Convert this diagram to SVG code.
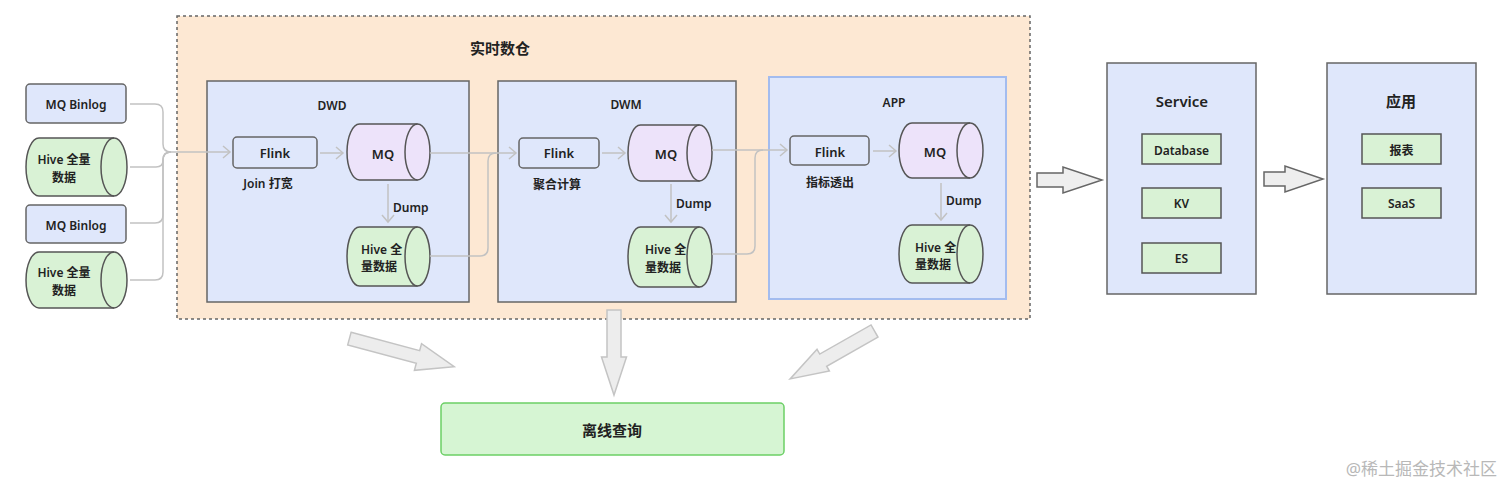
<svg xmlns="http://www.w3.org/2000/svg" width="1504" height="486" viewBox="0 0 1504 486">
<style>
text{font-family:"Noto Sans","Noto Sans CJK SC",sans-serif;font-weight:600;fill:#222;text-anchor:middle;dominant-baseline:central}
.s12{font-size:12px}.s13{font-size:13px}.s15{font-size:15px}
.blue{fill:#dfe7fb;stroke:#666;stroke-width:1.5}
.green{fill:#d9f2d5;stroke:#555;stroke-width:1.5}
.pink{fill:#ede3fa;stroke:#555;stroke-width:1.5}
.inner{fill:none;stroke:#555;stroke-width:1.5}
.con{fill:none;stroke:#c2c2c2;stroke-width:1.5}
.blk{fill:#eeeeee;stroke:#666;stroke-width:1.5}
.blk2{fill:#ededed;stroke:#c4c4c4;stroke-width:1.5}
.st{text-anchor:start}
</style>
<defs>
<marker id="ah" markerUnits="userSpaceOnUse" markerWidth="12" markerHeight="14" refX="9" refY="7" orient="auto">
<path d="M2,1 L9,7 L2,13" fill="none" stroke="#c2c2c2" stroke-width="1.5"/>
</marker>
</defs>
<rect width="1504" height="486" fill="#ffffff"/>

<g id="realtime">
<rect x="177" y="16" width="853" height="303" fill="#fde8d3" stroke="#666" stroke-width="1.5" stroke-dasharray="3,3"/>
<text x="500" y="48" class="s15">实时数仓</text>
</g>

<g id="dwd">
<rect x="207" y="81" width="262" height="221" class="blue"/>
<text x="332" y="105" class="s12">DWD</text>
</g>
<g id="dwm">
<rect x="498" y="81" width="238" height="221" class="blue"/>
<text x="626" y="104" class="s12">DWM</text>
</g>
<g id="app">
<rect x="769" y="77" width="237" height="222" fill="#dfe7fb" stroke="#a3bcef" stroke-width="2"/>
<text x="894" y="102" class="s12">APP</text>
</g>

<g id="src-mq1">
<rect x="26" y="84" width="100" height="39" rx="4" class="blue"/>
<text x="76" y="104" class="s12">MQ Binlog</text>
</g>
<g id="src-hive1">
<path d="M39,138 H114 A13,29 0 0 1 114,196 H39 A13,29 0 0 1 39,138 Z" class="green"/>
<path d="M114,138 A13,29 0 0 0 114,196" class="inner"/>
<text x="64" y="159" class="s12">Hive 全量</text>
<text x="64" y="177" class="s12">数据</text>
</g>
<g id="src-mq2">
<rect x="26" y="205" width="100" height="38" rx="4" class="blue"/>
<text x="76" y="225" class="s12">MQ Binlog</text>
</g>
<g id="src-hive2">
<path d="M39,252 H114 A13,28 0 0 1 114,308 H39 A13,28 0 0 1 39,252 Z" class="green"/>
<path d="M114,252 A13,28 0 0 0 114,308" class="inner"/>
<text x="64" y="272" class="s12">Hive 全量</text>
<text x="64" y="290" class="s12">数据</text>
</g>

<g id="dwd-flink">
<rect x="233" y="137" width="84" height="31" rx="4" class="blue"/>
<text x="275" y="153" class="s13">Flink</text>
<text x="268" y="183" class="s12">Join 打宽</text>
</g>
<g id="dwd-mq">
<path d="M359.5,124 H417.5 A12.5,28 0 0 1 417.5,180 H359.5 A12.5,28 0 0 1 359.5,124 Z" class="pink"/>
<path d="M417.5,124 A12.5,28 0 0 0 417.5,180" class="inner"/>
<text x="383" y="154" class="s13">MQ</text>
</g>
<g id="dwd-hive">
<path d="M359.5,227 H417.5 A12.5,29.5 0 0 1 417.5,286 H359.5 A12.5,29.5 0 0 1 359.5,227 Z" class="green"/>
<path d="M417.5,227 A12.5,29.5 0 0 0 417.5,286" class="inner"/>
<text x="361" y="249" class="s12 st">Hive 全</text>
<text x="361" y="266" class="s12 st">量数据</text>
</g>

<g id="dwm-flink">
<rect x="519" y="138" width="80" height="30" rx="4" class="blue"/>
<text x="559" y="153" class="s13">Flink</text>
<text x="557" y="184" class="s12">聚合计算</text>
</g>
<g id="dwm-mq">
<path d="M640.5,125 H699.5 A12.5,28 0 0 1 699.5,181 H640.5 A12.5,28 0 0 1 640.5,125 Z" class="pink"/>
<path d="M699.5,125 A12.5,28 0 0 0 699.5,181" class="inner"/>
<text x="666" y="154" class="s13">MQ</text>
</g>
<g id="dwm-hive">
<path d="M640.5,227 H699.5 A12.5,30 0 0 1 699.5,287 H640.5 A12.5,30 0 0 1 640.5,227 Z" class="green"/>
<path d="M699.5,227 A12.5,30 0 0 0 699.5,287" class="inner"/>
<text x="645" y="249" class="s12 st">Hive 全</text>
<text x="645" y="267" class="s12 st">量数据</text>
</g>

<g id="app-flink">
<rect x="790" y="136" width="79" height="29" rx="4" class="blue"/>
<text x="830" y="152" class="s13">Flink</text>
<text x="830" y="182" class="s12">指标透出</text>
</g>
<g id="app-mq">
<path d="M912,123 H970 A13,27.5 0 0 1 970,178 H912 A13,27.5 0 0 1 912,123 Z" class="pink"/>
<path d="M970,123 A13,27.5 0 0 0 970,178" class="inner"/>
<text x="935" y="152" class="s13">MQ</text>
</g>
<g id="app-hive">
<path d="M912,225 H970 A13,29 0 0 1 970,283 H912 A13,29 0 0 1 912,225 Z" class="green"/>
<path d="M970,225 A13,29 0 0 0 970,283" class="inner"/>
<text x="915" y="247" class="s12 st">Hive 全</text>
<text x="915" y="264" class="s12 st">量数据</text>
</g>

<g id="service">
<rect x="1107" y="63" width="149" height="231" class="blue"/>
<text x="1182" y="101" class="s15">Service</text>
<rect x="1142" y="134" width="79" height="30" class="green"/>
<text x="1181.5" y="150" class="s12">Database</text>
<rect x="1142" y="188" width="79" height="30" class="green"/>
<text x="1181.5" y="203" class="s12">KV</text>
<rect x="1142" y="243" width="79" height="30" class="green"/>
<text x="1181.5" y="258" class="s12">ES</text>
</g>
<g id="yingyong">
<rect x="1327" y="63" width="149" height="231" class="blue"/>
<text x="1401" y="101" class="s15">应用</text>
<rect x="1362" y="134" width="79" height="30" class="green"/>
<text x="1401.5" y="150" class="s12">报表</text>
<rect x="1362" y="188" width="79" height="30" class="green"/>
<text x="1401.5" y="203" class="s12">SaaS</text>
</g>

<g id="offline">
<rect x="441" y="403" width="343" height="52" rx="4" fill="#d6f5d3" stroke="#6ccf66" stroke-width="1.5"/>
<text x="612" y="430" style="font-size:15px">离线查询</text>
</g>

<g id="connectors">
<path d="M130,104 H155 Q163,104 163,112 V144 Q163,152 171,152 H230" class="con" marker-end="url(#ah)"/>
<path d="M130,167 H156 Q163,167 163,160 Q163,152 171,152" class="con"/>
<path d="M130,223 H155 Q163,223 163,215 V160 Q163,152 171,152" class="con"/>
<path d="M130,280 H155 Q163,280 163,272 V160 Q163,152 171,152" class="con"/>
<path d="M320,153 H343" class="con" marker-end="url(#ah)"/>
<path d="M388,184 V222" class="con" marker-end="url(#ah)"/>
<text x="393" y="207" class="s12 st">Dump</text>
<path d="M430,153 H516" class="con" marker-end="url(#ah)"/>
<path d="M430,256 H480 Q488,256 488,248 V161 Q488,153 496,153" class="con"/>
<path d="M602,153 H625" class="con" marker-end="url(#ah)"/>
<path d="M671,184 V222" class="con" marker-end="url(#ah)"/>
<text x="676" y="203" class="s12 st">Dump</text>
<path d="M712,150 H787" class="con" marker-end="url(#ah)"/>
<path d="M712,254 H747 Q755,254 755,246 V158 Q755,150 763,150" class="con"/>
<path d="M873,151 H896" class="con" marker-end="url(#ah)"/>
<path d="M941,183 V220" class="con" marker-end="url(#ah)"/>
<text x="946" y="200" class="s12 st">Dump</text>
<polygon points="1037,173 1063,173 1063,167 1102,180 1063,193 1063,187 1037,187" class="blk"/>
<polygon points="1264,172 1285,172 1285,166 1323,179 1285,192 1285,186 1264,186" class="blk"/>
<polygon points="607,310 621,310 621,357 626.5,357 614,395 601.5,357 607,357" class="blk2"/>
<polygon transform="translate(349.4,338.6) rotate(15)" points="0,-6.5 71,-6.5 71,-13.8 108.5,0 71,13.8 71,6.5 0,6.5" class="blk2"/>
<polygon transform="translate(874.5,331) rotate(150.4)" points="0,-7 59,-7 59,-12.5 97,0 59,12.5 59,7 0,7" class="blk2"/>
</g>

<text x="1497" y="468" style="font-size:17px;font-weight:400;fill:#b8b8b8;text-anchor:end">@稀土掘金技术社区</text>
</svg>
